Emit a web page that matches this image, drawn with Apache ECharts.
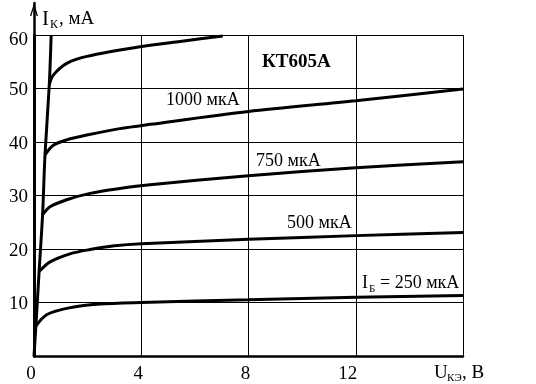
<!DOCTYPE html>
<html>
<head>
<meta charset="utf-8">
<script src="https://cdn.jsdelivr.net/npm/echarts@6/dist/echarts.min.js"></script>
<style>html,body{margin:0;padding:0;background:#fff;}#c{width:536px;height:384px;}</style>
</head>
<body>
<div id="c"></div>
<script>
// Saturation boundary (V, mA)
var satV = [0, 0.07, 0.19, 0.32, 0.41, 0.57, 0.64];
var satI = [0, 5.6, 15.8, 26.4, 37.6, 50.7, 60];
// Output characteristic curves, one pair of arrays per base current
var c250V = [0.07, 0.47, 1.22, 2.46, 4, 8, 12, 16];
var c250I = [5.6, 7.7, 8.9, 9.7, 10.0, 10.5, 11.0, 11.3];
var c500V = [0.19, 0.6, 1.34, 2.09, 3, 4, 8, 12, 16];
var c500I = [15.8, 17.6, 19.1, 19.9, 20.6, 21.0, 21.8, 22.5, 23.1];
var c750V = [0.32, 0.6, 1.22, 2.09, 3.2, 4.33, 8, 12, 16];
var c750I = [26.4, 27.9, 29.2, 30.4, 31.3, 32.0, 33.7, 35.2, 36.3];
var c1000V = [0.41, 0.72, 1.22, 1.97, 3.2, 4.33, 8, 12, 16];
var c1000I = [37.6, 39.4, 40.4, 41.3, 42.5, 43.3, 45.7, 47.7, 49.9];
var c1250V = [0.57, 0.72, 1.22, 1.97, 3.95, 5.45, 7.04];
var c1250I = [50.7, 52.5, 54.7, 56.0, 57.8, 58.8, 59.8];
// Tick labels
var xTickLabels = [0, 4, 8, 12];
var yTickLabels = [10, 20, 30, 40, 50, 60];

function pairs(xs, ys) { return xs.map(function (x, i) { return [x, ys[i]]; }); }

var serif = '"Liberation Serif","DejaVu Serif",serif';
var chart = echarts.init(document.getElementById('c'), null, {renderer: 'canvas'});

function curve(xs, ys) {
  return {
    type: 'line', xAxisIndex: 0, yAxisIndex: 0,
    data: pairs(xs, ys), smooth: 0.3, showSymbol: false, symbol: 'none',
    lineStyle: {color: '#000', width: 3}, z: 3, animation: false
  };
}

function txt(x, y, s, font) {
  return {type: 'text', x: x, y: y, z: 10,
    style: {text: s, font: font, fill: '#000', textVerticalAlign: 'middle', verticalAlign: 'middle'}};
}

chart.setOption({
  animation: false,
  backgroundColor: '#fff',
  grid: [
    {left: 34, right: 73, top: 35, bottom: 28},
    {left: 34, width: 10, top: 3, height: 32}
  ],
  xAxis: [
    {
      type: 'value', gridIndex: 0, min: 0, max: 16, interval: 4,
      axisLine: {show: true, onZero: false, lineStyle: {color: '#000', width: 2.5}},
      axisTick: {show: false},
      axisLabel: {
        color: '#000', fontFamily: serif, fontSize: 19, margin: 9,
        formatter: function (v) {
          if (xTickLabels.indexOf(v) < 0) return '';
          return v >= 10 ? '{w|' + v + '}' : '{n|' + v + '}';
        },
        rich: {
          n: {fontFamily: serif, fontSize: 19, color: '#000', padding: [0, 6, 0, 0]},
          w: {fontFamily: serif, fontSize: 19, color: '#000', padding: [0, 16, 0, 0]}
        }
      },
      splitLine: {show: true, lineStyle: {color: '#000', width: 1}}
    },
    {type: 'value', gridIndex: 1, show: false, min: 0, max: 1}
  ],
  yAxis: [
    {
      type: 'value', gridIndex: 0, min: 0, max: 60, interval: 10,
      axisLine: {show: true, onZero: false, lineStyle: {color: '#000', width: 3}},
      axisTick: {show: false},
      axisLabel: {
        color: '#000', fontFamily: serif, fontSize: 19, margin: 6,
        formatter: function (v) {
          if (yTickLabels.indexOf(v) < 0) return '';
          return v === 60 ? '{t|' + v + '}' : '{n|' + v + '}';
        },
        rich: {
          n: {fontFamily: serif, fontSize: 19, color: '#000', padding: [4, 0, 0, 0]},
          t: {fontFamily: serif, fontSize: 19, color: '#000', padding: [10, 0, 0, 0]}
        }
      },
      splitLine: {show: true, lineStyle: {color: '#000', width: 1}}
    },
    {
      type: 'value', gridIndex: 1, min: 0, max: 1,
      axisLine: {
        show: true, onZero: false,
        lineStyle: {color: '#000', width: 2.5},
        symbol: ['none', 'path://M0,13 L4,0 L8,13 L6.6,13 L4,3.8 L1.4,13 Z'],
        symbolSize: [8, 13],
        symbolOffset: [0, -6.5]
      },
      axisTick: {show: false}, axisLabel: {show: false}, splitLine: {show: false}
    }
  ],
  series: [
    curve(satV, satI),
    curve(c250V, c250I),
    curve(c500V, c500I),
    curve(c750V, c750I),
    curve(c1000V, c1000I),
    curve(c1250V, c1250I)
  ],
  graphic: [
    txt(42, 19, 'I', '21px ' + serif),
    txt(50, 25, 'К', '12px ' + serif),
    txt(59, 19, ', мА', '19px ' + serif),

    txt(434, 373, 'U', '19px ' + serif),
    txt(447, 378, 'КЭ', '11px ' + serif),
    txt(462, 373, ', В', '19px ' + serif),

    txt(262, 62, 'КТ605А', 'bold 19px ' + serif),
    txt(166, 100, '1000 мкА', '18px ' + serif),
    txt(256, 161, '750 мкА', '18px ' + serif),
    txt(287, 223, '500 мкА', '18px ' + serif),
    txt(362, 283, 'I', '18px ' + serif),
    txt(369, 289, 'Б', '11px ' + serif),
    txt(380, 283, '= 250 мкА', '18px ' + serif)
  ]
});
</script>
</body>
</html>
